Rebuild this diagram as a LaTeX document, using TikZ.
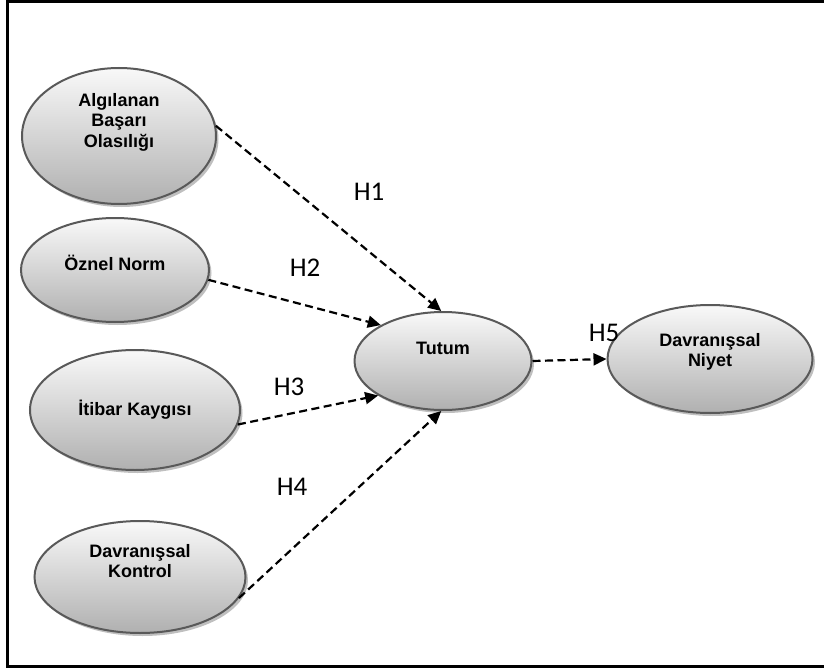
\documentclass[tikz,border=0pt]{standalone}
\usepackage{fontspec}
\setmainfont{Liberation Sans}
\newfontfamily\labfont{Carlito}
\usetikzlibrary{shapes.geometric,shadows,arrows.meta}
\begin{document}
\begin{tikzpicture}[x=1pt,y=-1pt,
  construct/.style={ellipse, draw=gray!70!black, line width=2pt,
    top color=gray!5, bottom color=gray!62, inner sep=0pt,
    drop shadow={shadow xshift=2.5pt, shadow yshift=-3pt, fill=gray!50, opacity=1}},
  ctext/.style={align=center, inner sep=0pt, font=\fontsize{18}{20.5}\selectfont\bfseries},
  link/.style={dashed, dash pattern=on 8pt off 4.5pt, line width=2.2pt,
    -{Triangle[length=13pt,width=12pt]}},
  hlab/.style={font=\labfont\fontsize{27}{27}\selectfont}]
\useasboundingbox (0,0) rectangle (824,671);
\draw[line width=3pt] (830,1.5) -- (7.5,1.5) -- (7.5,666.5) -- (830,666.5);
\node[construct, minimum width=194pt, minimum height=136pt] (a1) at (119,136) {};
\node[construct, minimum width=188pt, minimum height=104pt] (a2) at (115,270) {};
\node[construct, minimum width=210pt, minimum height=120pt] (a3) at (135,410) {};
\node[construct, minimum width=211pt, minimum height=112pt] (a4) at (140,577) {};
\node[construct, minimum width=177pt, minimum height=98pt] (tt) at (443,361) {};
\node[construct, minimum width=205pt, minimum height=108pt] (dn) at (710,359) {};
\node[ctext] (a1t) at (119,122) {Algılanan\\Başarı\\Olasılığı};
\node[ctext] (a2t) at (115,263) {Öznel Norm};
\node[ctext] (a3t) at (135,410) {İtibar Kaygısı};
\node[ctext] (a4t) at (140,561) {Davranışsal\\Kontrol};
\node[ctext] (ttt) at (443,348) {Tutum};
\node[ctext] (dnt) at (710,352) {Davranışsal\\Niyet};
\draw[link] (a1.6) -- (tt.92);
\draw[link] (a2.-6) -- (tt.150);
\draw[link] (a3.-8) -- (tt.208);
\draw[link] (a4.-12) -- (tt.268);
\draw[link] (tt.east) -- (dn.west);
\node[hlab] (h1) at (369,192) {H1};
\node[hlab] (h2) at (305,268) {H2};
\node[hlab] (h3) at (289,387) {H3};
\node[hlab] (h4) at (292,487) {H4};
\node[hlab] (h5) at (604,333) {H5};
\end{tikzpicture}
\end{document}
